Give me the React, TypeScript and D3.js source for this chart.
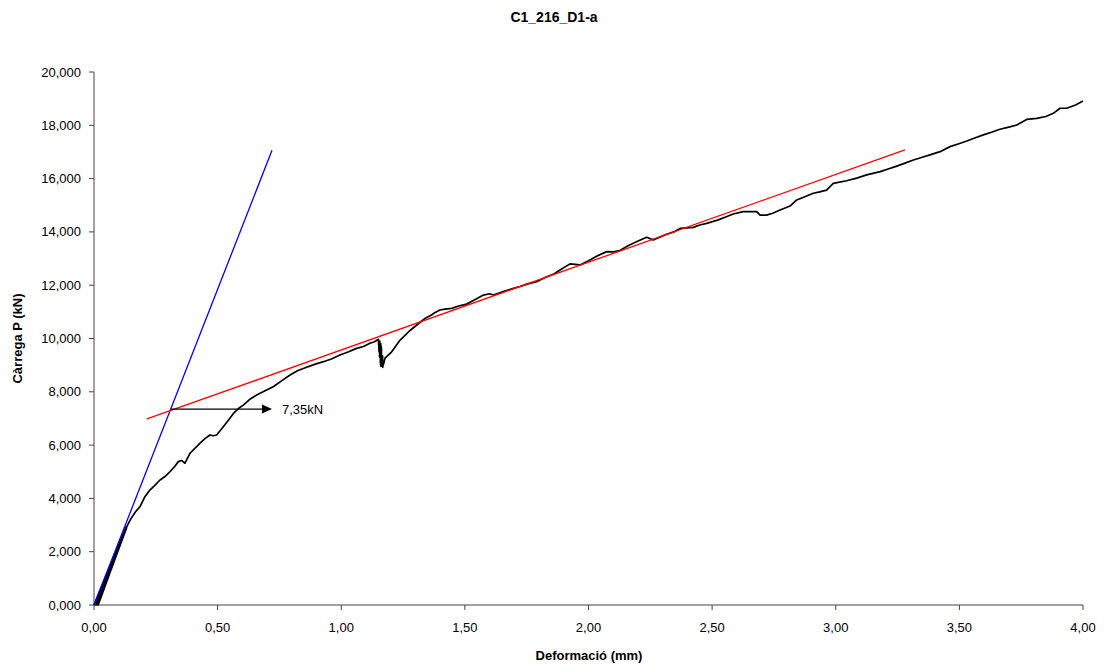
import React from "react";
import * as d3 from "d3";

// Load–deformation record for specimen C1_216_D1-a
const deformation: number[] = [
  0.0, 0.13, 0.008, 0.128, 0.016, 0.132, 0.012, 0.126, 0.02, 0.132,
  0.15, 0.168, 0.186, 0.205, 0.226, 0.245, 0.267, 0.287, 0.307, 0.325, 0.341,
  0.355, 0.368, 0.388, 0.41, 0.429, 0.45, 0.469, 0.482, 0.496,
  0.523, 0.545, 0.564, 0.585, 0.604, 0.63, 0.658, 0.69, 0.725, 0.76, 0.793,
  0.825, 0.86, 0.895, 0.928, 0.96, 0.995, 1.03, 1.062, 1.09, 1.116, 1.135,
  1.15, 1.153, 1.156, 1.155, 1.16, 1.158, 1.162, 1.159, 1.163, 1.161, 1.167,
  1.168, 1.165, 1.17, 1.177, 1.204, 1.238,
  1.278, 1.318, 1.34, 1.365, 1.38, 1.399, 1.42, 1.447, 1.475, 1.507, 1.54,
  1.575, 1.6, 1.615, 1.655, 1.69, 1.723, 1.755, 1.79,
  1.831, 1.86, 1.885, 1.925, 1.966, 2.006, 2.04, 2.074, 2.1, 2.127, 2.16, 2.194,
  2.235, 2.262, 2.316, 2.345,
  2.37, 2.424, 2.45, 2.478, 2.525, 2.555, 2.585, 2.626, 2.68, 2.694, 2.72,
  2.745, 2.775, 2.815,
  2.842, 2.875, 2.909, 2.935, 2.963, 2.99, 3.044, 3.085, 3.125, 3.18, 3.215,
  3.247, 3.28, 3.314, 3.35, 3.381, 3.422,
  3.462, 3.495, 3.53, 3.565, 3.597, 3.63, 3.664, 3.7, 3.732, 3.772, 3.813,
  3.85, 3.88, 3.907, 3.934, 3.97, 4.0,
];
const load: number[] = [
  0, 2935, 0, 2850, 0, 2900, 60, 2780, 80, 2935,
  3250, 3500, 3690, 4050, 4315, 4480, 4690, 4820, 5000, 5180, 5380,
  5420, 5320, 5690, 5900, 6070, 6250, 6380, 6350, 6380,
  6690, 6950, 7190, 7380, 7500, 7720, 7880, 8030, 8190, 8420, 8630,
  8800, 8920, 9040, 9130, 9230, 9380, 9500, 9630, 9700, 9820, 9880,
  9970, 9500, 9900, 9300, 9800, 9100, 9700, 9000, 9600, 8950, 9350,
  8920, 9150, 9000, 9260, 9500, 9940,
  10300, 10600, 10760, 10880, 10980, 11070, 11100, 11130, 11220, 11290, 11450,
  11630, 11680, 11630, 11760, 11860, 11950, 12050, 12130,
  12320, 12420, 12570, 12800, 12760, 12950, 13120, 13260, 13250, 13300, 13480, 13630,
  13800, 13700, 13910, 14000,
  14130, 14170, 14260, 14320, 14450, 14560, 14670, 14760, 14760, 14630, 14630,
  14700, 14820, 14970,
  15200, 15320, 15450, 15500, 15570, 15820, 15920, 16020, 16140, 16260, 16370,
  16470, 16580, 16700, 16800, 16890, 17010,
  17200, 17300, 17410, 17530, 17640, 17740, 17850, 17930, 18010, 18220, 18260,
  18330, 18450, 18640, 18640, 18760, 18910,
];

// Elastic (initial stiffness) line and post-yield tangent line
const elasticLine: [number, number][] = [[0, 0], [0.72, 17060]];
const tangentLine: [number, number][] = [[0.214, 6980], [3.28, 17080]];
const yieldLoad = 7350;
const yieldArrow: [number, number] = [0.31, 0.72];
const yieldLabel = "7,35kN";

const xTicks = [0, 0.5, 1, 1.5, 2, 2.5, 3, 3.5, 4];
const yTicks = [0, 2000, 4000, 6000, 8000, 10000, 12000, 14000, 16000, 18000, 20000];

const title = "C1_216_D1-a";
const xTitle = "Deformació (mm)";
const yTitle = "Càrrega P (kN)";

const W = 1108;
const H = 669;
const m = { left: 94, right: 1083, top: 72, bottom: 605 };
const font = "'Liberation Sans', Arial, sans-serif";

export default function App() {
  const x = d3.scaleLinear().domain([0, 4]).range([m.left, m.right]);
  const y = d3.scaleLinear().domain([0, 20000]).range([m.bottom, m.top]);
  const line = d3
    .line<[number, number]>()
    .x((d) => x(d[0]))
    .y((d) => y(d[1]));
  const curve: [number, number][] = deformation.map((d, i) => [d, load[i]]);
  const fmtX = (v: number) => v.toFixed(2).replace(".", ",");
  const yLabel = (v: number) => (v === 0 ? "0,000" : d3.format(",")(v));

  const ax = x(yieldArrow[0]);
  const bx = x(yieldArrow[1]);
  const ay = y(yieldLoad);

  return (
    <svg
      width={W}
      height={H}
      style={{ position: "absolute", left: 0, top: 0, background: "#fff" }}
      fontFamily={font}
    >
      <text x={554} y={22} textAnchor="middle" fontSize={14} fontWeight="bold">
        {title}
      </text>

      {/* axes */}
      <line x1={m.left} x2={m.left} y1={m.top} y2={m.bottom} stroke="#444" />
      <line x1={m.left} x2={m.right} y1={m.bottom} y2={m.bottom} stroke="#444" />
      {yTicks.map((t) => (
        <g key={"y" + t}>
          <line x1={m.left - 5} x2={m.left} y1={y(t)} y2={y(t)} stroke="#444" />
          <text x={81} y={y(t) + 4.5} textAnchor="end" fontSize={13}>
            {yLabel(t)}
          </text>
        </g>
      ))}
      {xTicks.map((t) => (
        <g key={"x" + t}>
          <line x1={x(t)} x2={x(t)} y1={m.bottom} y2={m.bottom + 5} stroke="#444" />
          <text x={x(t)} y={m.bottom + 27} textAnchor="middle" fontSize={13}>
            {fmtX(t)}
          </text>
        </g>
      ))}
      <text x={589} y={660} textAnchor="middle" fontSize={13} fontWeight="bold">
        {xTitle}
      </text>
      <text
        transform={`translate(22,${(m.top + m.bottom) / 2}) rotate(-90)`}
        textAnchor="middle"
        fontSize={13}
        fontWeight="bold"
      >
        {yTitle}
      </text>

      {/* measured curve */}
      <path d={line(curve) ?? ""} fill="none" stroke="#000" strokeWidth={1.7} strokeLinejoin="round" />

      {/* construction lines */}
      <path d={line(elasticLine) ?? ""} fill="none" stroke="#0000ff" strokeWidth={1.3} />
      <path d={line(tangentLine) ?? ""} fill="none" stroke="#ff0000" strokeWidth={1.3} />

      {/* yield marker */}
      <line x1={ax} x2={bx - 8} y1={ay} y2={ay} stroke="#000" strokeWidth={1.2} />
      <path d={`M${bx},${ay} L${bx - 10},${ay - 4.5} L${bx - 10},${ay + 4.5} Z`} fill="#000" />
      <text x={bx + 10} y={ay + 5} fontSize={13}>
        {yieldLabel}
      </text>
    </svg>
  );
}
